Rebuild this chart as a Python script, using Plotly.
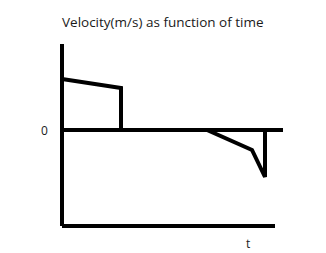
import plotly.graph_objects as go

# velocity curve (time in arbitrary units, velocity in m/s units as drawn)
time = [0, 5.9, 5.9, 14.5, 19.0, 20.3, 20.3]
velocity = [5.1, 4.2, 0, 0, -2.0, -4.7, 0]

# axis frame
v_axis_t = [0, 0]
v_axis_v = [8.6, -9.6]
zero_t = [0, 22.1]
zero_v = [0, 0]
base_t = [0, 21.3]
base_v = [-9.6, -9.6]

title_text = "Velocity(m/s) as function of time"
zero_label = "0"
t_label = "t"

fig = go.Figure()
line = dict(color="black", width=4)
fig.add_trace(go.Scatter(x=v_axis_t, y=v_axis_v, mode="lines", line=line))
fig.add_trace(go.Scatter(x=base_t, y=base_v, mode="lines", line=line))
fig.add_trace(go.Scatter(x=zero_t, y=zero_v, mode="lines", line=line))
fig.add_trace(go.Scatter(x=time, y=velocity, mode="lines", line=line))

fig.add_annotation(x=10.1, y=10.8, text=title_text, showarrow=False,
                   font=dict(family="Open Sans", size=13.5, color="#1a1a1a"))
fig.add_annotation(x=-1.8, y=0, text=zero_label, showarrow=False,
                   font=dict(family="Open Sans", size=12, color="#1a1a1a"))
fig.add_annotation(x=18.6, y=-11.3, text=t_label, showarrow=False,
                   font=dict(family="Open Sans", size=12, color="#1a1a1a"))

fig.update_layout(
    width=326, height=253, margin=dict(l=0, r=0, t=0, b=0),
    paper_bgcolor="white", plot_bgcolor="white", showlegend=False,
    xaxis=dict(range=[-6.2, 26.4], visible=False, fixedrange=True),
    yaxis=dict(range=[-12.3, 13.0], visible=False, fixedrange=True),
)
fig.write_html("out.html", config={"displayModeBar": False})
